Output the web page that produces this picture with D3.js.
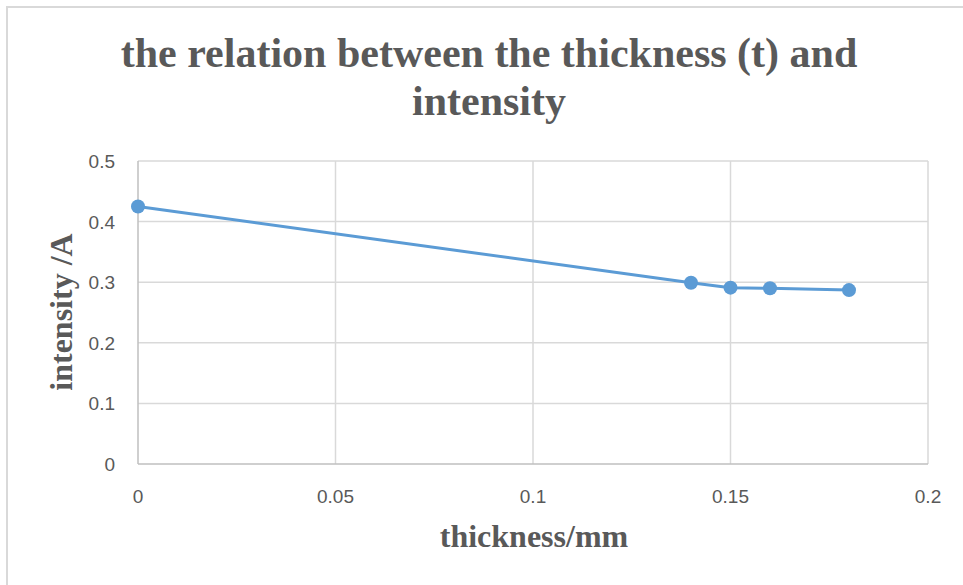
<!DOCTYPE html>
<html>
<head>
<meta charset="utf-8">
<script src="https://cdn.jsdelivr.net/npm/d3@7"></script>
<style>
  body { margin: 0; background: #fff; }
  svg { display: block; }
</style>
</head>
<body>
<svg id="chart" width="963" height="585"></svg>
<script>
// data
var thickness = [0, 0.14, 0.15, 0.16, 0.18];
var intensity = [0.425, 0.299, 0.291, 0.290, 0.287];
var xTicks = [0, 0.05, 0.1, 0.15, 0.2];
var yTicks = [0, 0.1, 0.2, 0.3, 0.4, 0.5];
var titleLines = ['the relation between the thickness (t) and', 'intensity'];

var svg = d3.select('#chart');
var margin = {left: 138, right: 35, top: 161, bottom: 121};
var W = 963, H = 585;
var grey = '#d9d9d9', txt = '#595959', blue = '#5b9bd5';

// chart frame
svg.append('rect')
  .attr('x', 7).attr('y', 7).attr('width', W + 10).attr('height', H + 10)
  .attr('fill', '#fff').attr('stroke', grey).attr('stroke-width', 2);

var x = d3.scaleLinear().domain([0, 0.2]).range([margin.left, W - margin.right]);
var y = d3.scaleLinear().domain([0, 0.5]).range([H - margin.bottom, margin.top]);

// grid
svg.append('g').selectAll('line').data(yTicks.slice(1)).enter().append('line')
  .attr('x1', x(0)).attr('x2', x(0.2))
  .attr('y1', function(d) { return y(d); }).attr('y2', function(d) { return y(d); })
  .attr('stroke', grey).attr('stroke-width', 1.5);
svg.append('g').selectAll('line').data(xTicks.slice(1)).enter().append('line')
  .attr('y1', y(0)).attr('y2', y(0.5))
  .attr('x1', function(d) { return x(d); }).attr('x2', function(d) { return x(d); })
  .attr('stroke', grey).attr('stroke-width', 1.5);

// axes lines
svg.append('line').attr('x1', x(0)).attr('x2', x(0)).attr('y1', y(0)).attr('y2', y(0.5))
  .attr('stroke', '#bfbfbf').attr('stroke-width', 1.5);
svg.append('line').attr('x1', x(0)).attr('x2', x(0.2)).attr('y1', y(0)).attr('y2', y(0))
  .attr('stroke', '#bfbfbf').attr('stroke-width', 1.5);

// tick labels
var tickFont = '"Liberation Sans", Arial, sans-serif';
svg.append('g').selectAll('text').data(yTicks).enter().append('text')
  .attr('x', 115).attr('y', function(d) { return y(d) + 7; })
  .attr('text-anchor', 'end').attr('font-family', tickFont).attr('font-size', 19)
  .attr('fill', txt).text(function(d) { return d3.format('')(d); });
svg.append('g').selectAll('text').data(xTicks).enter().append('text')
  .attr('x', function(d) { return x(d); }).attr('y', 503)
  .attr('text-anchor', 'middle').attr('font-family', tickFont).attr('font-size', 19)
  .attr('fill', txt).text(function(d) { return d3.format('')(d); });

// series
var pts = thickness.map(function(t, i) { return [t, intensity[i]]; });
svg.append('path').datum(pts)
  .attr('d', d3.line().x(function(d) { return x(d[0]); }).y(function(d) { return y(d[1]); }))
  .attr('fill', 'none').attr('stroke', blue).attr('stroke-width', 3).attr('stroke-linejoin', 'round');
svg.append('g').selectAll('circle').data(pts).enter().append('circle')
  .attr('cx', function(d) { return x(d[0]); }).attr('cy', function(d) { return y(d[1]); })
  .attr('r', 7).attr('fill', blue);

// titles
var serif = '"Liberation Serif", "Times New Roman", serif';
titleLines.forEach(function(line, i) {
  svg.append('text')
    .attr('x', 489).attr('y', 67 + i * 48)
    .attr('text-anchor', 'middle').attr('font-family', serif).attr('font-weight', 'bold')
    .attr('font-size', 42).attr('fill', txt).text(line);
});

svg.append('text').attr('x', 534).attr('y', 547)
  .attr('text-anchor', 'middle').attr('font-family', serif).attr('font-weight', 'bold')
  .attr('font-size', 32).attr('fill', txt).text('thickness/mm');

svg.append('text')
  .attr('transform', 'translate(72,312) rotate(-90)')
  .attr('text-anchor', 'middle').attr('font-family', serif).attr('font-weight', 'bold')
  .attr('font-size', 32).attr('fill', txt).text('intensity /A');
</script>
</body>
</html>
